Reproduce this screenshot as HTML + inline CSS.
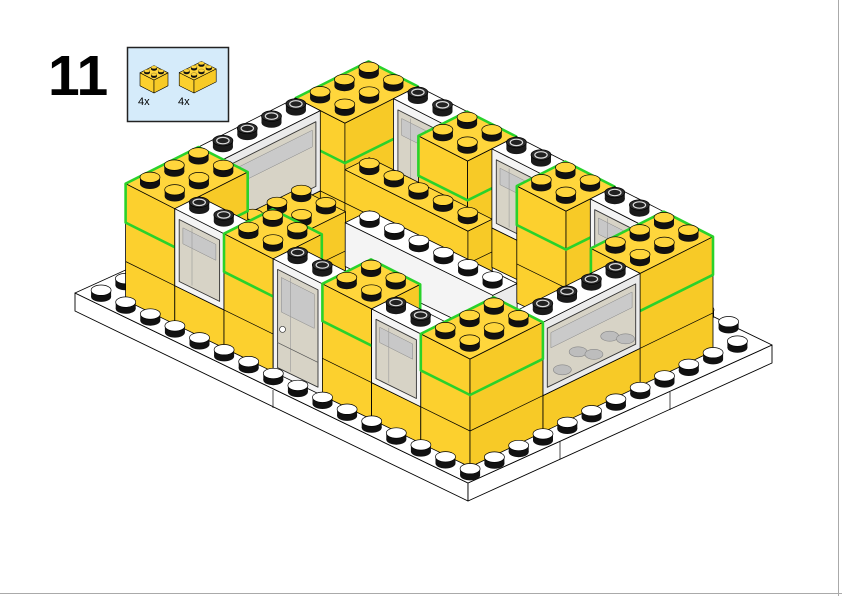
<!DOCTYPE html>
<html><head><meta charset="utf-8"><style>
html,body{margin:0;padding:0;background:#fff;}
body{width:842px;height:596px;overflow:hidden;position:relative;}
svg{position:absolute;left:0;top:0;}
</style></head><body>
<svg id="s" width="842" height="596" viewBox="0 0 842 596" xmlns="http://www.w3.org/2000/svg">
<rect x="0" y="0" width="842" height="596" fill="#fff"/>
<line x1="838.5" y1="0" x2="838.5" y2="596" stroke="#aaa" stroke-width="1"/>
<line x1="0" y1="593.5" x2="842" y2="593.5" stroke="#aaa" stroke-width="1"/>
<text x="48" y="95" font-family="Liberation Sans, sans-serif" font-weight="bold" font-size="57" fill="#000">11</text>
<rect x="127.5" y="47.5" width="101" height="74" fill="#D5EBFA" stroke="#222" stroke-width="1.5"/>
<text x="138" y="105" font-family="Liberation Sans, sans-serif" font-size="11" fill="#000">4x</text>
<text x="178" y="105" font-family="Liberation Sans, sans-serif" font-size="11" fill="#000">4x</text>
<g id="g"></g>
</svg>
<script>
(function(){
var S={ox:470,oy:467,ax:-24.6,ay:-11.9,bx:24.3,by:-11.6,persp:0.0058};
function P(a,b,z,s){s=s||S;var zs=(s.zs||1)*(1+(s.persp||0)*(a+b));return [s.ox+s.ax*a+s.bx*b, s.oy+s.ay*a+s.by*b-z*zs];}
function pts(p){return p.map(function(q){return q[0].toFixed(1)+','+q[1].toFixed(1);}).join(' ');}
function poly(p,f,st,w){return '<polygon points="'+pts(p)+'" fill="'+f+'" stroke="'+(st||'#000')+'" stroke-width="'+(w==null?0.8:w)+'" stroke-linejoin="round"/>';}
function ln(p,q,c,w){return '<line x1="'+p[0].toFixed(1)+'" y1="'+p[1].toFixed(1)+'" x2="'+q[0].toFixed(1)+'" y2="'+q[1].toFixed(1)+'" stroke="'+(c||'#000')+'" stroke-width="'+(w||0.7)+'"/>';}
var YT='#FFD63C',YL='#FCD02E',YR='#F7CA27';
function stud(a,b,z,type,s){
  s=s||S; var c=P(a,b,z,s); var k=Math.abs(s.bx)/24.3;
  var rx=10*k, ry=5.2*k, h=6.5*k, o='';
  var side='#111', top=YT;
  if(type==='white'){top='#fff';}
  if(type==='black'){side='#1a1a1a';top='#2b2b2b';}
  o+='<ellipse cx="'+c[0].toFixed(1)+'" cy="'+c[1].toFixed(1)+'" rx="'+rx.toFixed(1)+'" ry="'+ry.toFixed(1)+'" fill="'+side+'"/>';
  o+='<rect x="'+(c[0]-rx).toFixed(1)+'" y="'+(c[1]-h).toFixed(1)+'" width="'+(2*rx).toFixed(1)+'" height="'+h.toFixed(1)+'" fill="'+side+'"/>';
  o+='<ellipse cx="'+c[0].toFixed(1)+'" cy="'+(c[1]-h).toFixed(1)+'" rx="'+rx.toFixed(1)+'" ry="'+ry.toFixed(1)+'" fill="'+top+'" stroke="#000" stroke-width="'+(0.7*k).toFixed(2)+'"/>';
  if(type==='black'){o+='<ellipse cx="'+c[0].toFixed(1)+'" cy="'+(c[1]-h).toFixed(1)+'" rx="'+(rx*0.62).toFixed(1)+'" ry="'+(ry*0.62).toFixed(1)+'" fill="#222" stroke="#ddd" stroke-width="1.2"/>';}
  return o;
}
function box(o,s){
  s=s||S; var a0=o.a0,a1=o.a1,b0=o.b0,b1=o.b1,z0=o.z0,z1=o.z1,r='';
  var white=o.white;
  var tc=white?'#fff':YT, lc=white?'#f4f4f4':YL, rc=white?'#ebebeb':YR;
  var L=[P(a0,b0,z0,s),P(a1,b0,z0,s),P(a1,b0,z1,s),P(a0,b0,z1,s)];
  var R=[P(a0,b0,z0,s),P(a0,b1,z0,s),P(a0,b1,z1,s),P(a0,b0,z1,s)];
  var T=[P(a0,b0,z1,s),P(a1,b0,z1,s),P(a1,b1,z1,s),P(a0,b1,z1,s)];
  var sw=o.sw==null?0.8:o.sw;
  r+=poly(L,lc,'#000',sw)+poly(R,rc,'#000',sw)+poly(T,tc,'#000',sw);
  if(!white && !o.nolines){
    for(var z=36;z<z1-1;z+=36){ if(z>z0+1){
      r+=ln(P(a0,b0,z,s),P(a1,b0,z,s))+ln(P(a0,b0,z,s),P(a0,b1,z,s));}}
  }
  if(o.win){
    var w=o.win, m=0.18, g;
    if(w.face==='L'){
      g=[P(a0+m,b0,w.zb,s),P(a1-m,b0,w.zb,s),P(a1-m,b0,w.zt,s),P(a0+m,b0,w.zt,s)];
    } else {
      g=[P(a0,b0+m,w.zb,s),P(a0,b1-m,w.zb,s),P(a0,b1-m,w.zt,s),P(a0,b0+m,w.zt,s)];
    }
    r+=poly(g,'#d7d3c6','#333',0.9);
    var gi;
    if(w.face==='L'){ gi=[P(a0+m+0.15,b0,w.zt-6,s),P(a1-m-0.15,b0,w.zt-6,s),P(a1-m-0.15,b0,(w.zb+w.zt)/2+8,s),P(a0+m+0.15,b0,(w.zb+w.zt)/2+8,s)];
      r+=poly(gi,'#c8c8c8','#888',0.5);
      r+=ln(P((a0+a1)/2+0.3,b0,w.zb+2,s),P((a0+a1)/2+0.3,b0,w.zt-2,s),'#999',0.6);
    } else { gi=[P(a0,b0+m+0.15,w.zt-6,s),P(a0,b1-m-0.15,w.zt-6,s),P(a0,b1-m-0.15,(w.zb+w.zt)/2+8,s),P(a0,b0+m+0.15,(w.zb+w.zt)/2+8,s)];
      r+=poly(gi,'#cacaca','#888',0.5);
      if(o.grey){ for(var i=0;i<5;i++){ var c=P(a0,b0+0.8+i*0.65,w.zb+10+(i%2)*10,s);
        r+='<ellipse cx="'+c[0]+'" cy="'+c[1]+'" rx="9" ry="5" fill="#bdbdbd" stroke="#888" stroke-width="0.6"/>';}}
    }
    if(w.door){ var kp=P(a1-m-0.2,b0,45,s); r+='<circle cx="'+kp[0]+'" cy="'+kp[1]+'" r="3" fill="#fff" stroke="#333" stroke-width="0.7"/>';
      r+=ln(P(a0+m,b0,30,s),P(a1-m,b0,30,s),'#555',0.7);}
  }
  if(o.green){
    var H=[P(a0,b0,z0,s),P(a1,b0,z0,s),P(a1,b0,z1,s),P(a1,b1,z1,s),P(a0,b1,z1,s),P(a0,b1,z0,s)];
    r+=poly(H,'none','#2ad22a',2.6);
  }
  if(o.studs){
    var cells=o.cells;
    if(!cells){cells=[];for(var a=a0;a<a1-0.01;a++)for(var b=b0;b<b1-0.01;b++)cells.push([a+0.5,b+0.5]);}
    cells.sort(function(p,q){return (q[0]+q[1])-(p[0]+p[1]);});
    cells.forEach(function(c){r+=stud(c[0],c[1],z1,o.studs,s);});
  }
  return r;
}
var out='';
var S2={ox:154,oy:93,ax:-7,ay:-3.6,bx:7,by:-3.6,zs:1};
var S3={ox:194,oy:93,ax:-7.4,ay:-3.7,bx:7.4,by:-3.7,zs:1};
out+=box({a0:0,a1:2,b0:0,b1:2,z0:0,z1:13,studs:'yellow',nolines:true,sw:0.6},S2);
out+=box({a0:0,a1:2,b0:0,b1:3,z0:0,z1:13,studs:'yellow',nolines:true,sw:0.6},S3);
var F=[468,483],Lc=[75,293],Rc=[772,345],Bc=[379,155];
out+=poly([Lc,F,[468,501],[75,311]],'#fff','#000',0.9);
out+=poly([F,Rc,[772,363],[468,501]],'#fff','#000',0.9);
out+=poly([F,Lc,Bc,Rc],'#fff','#000',0.9);
out+=ln([273,390],[273,408])+ln([560,441],[560,459])+ln([670,392],[670,410]);
var back=[];
for(var b=0.65;b<11.5;b+=1)back.push([14.65,b]);
for(var a=0.65;a<14.6;a+=1)back.push([a,11.3]);
back.sort(function(p,q){return (q[0]+q[1])-(p[0]+p[1]);});
back.forEach(function(c){out+=stud(c[0],c[1],0,'white');});
var B=[];
function Y(a0,a1,b0,b1,z0,z1,ex){var o={a0:a0,a1:a1,b0:b0,b1:b1,z0:z0,z1:z1};for(var k in ex)o[k]=ex[k];B.push(o);}
function NEW(a0,a1,b0,b1){Y(a0,a1,b0,b1,0,72,{});Y(a0,a1,b0,b1,72,108,{green:true,studs:'yellow'});}
function WIN(a0,a1,b0,b1,face,base,ex){
  if(base>0)Y(a0,a1,b0,b1,0,base,{});
  var cells=[];
  if(face==='L'){for(var a=a0;a<a1-0.01;a++)cells.push([a+0.5,b0+0.5]);}
  else{for(var b=b0;b<b1-0.01;b++)cells.push([a0+0.5,b+0.5]);}
  var o={white:true,studs:'black',cells:cells,win:{face:face,zb:base+6,zt:100}};
  for(var k in ex){ if(k==='door')o.win.door=true; else o[k]=ex[k];}
  Y(a0,a1,b0,b1,base,108,o);
}
NEW(0,2,0,3); WIN(2,4,0,1,'L',36,{}); NEW(4,6,0,2); WIN(6,8,0,1,'L',0,{door:1});
NEW(8,10,0,2); WIN(10,12,0,1,'L',36,{}); NEW(12,14,0,3);
WIN(0,1,3,7,'R',36,{grey:1}); NEW(0,2,7,10);
WIN(2,4,9,10,'L',36,{}); NEW(4,6,8,10); WIN(6,8,9,10,'L',36,{}); NEW(8,10,8,10);
WIN(10,12,9,10,'L',36,{}); NEW(12,14,7,10);
WIN(13,14,3,7,'R',36,{});
Y(7,12,7,8,0,66,{studs:'yellow'});
Y(10,11.9,2.2,5,0,72,{studs:'yellow'});
Y(5,11,6,7,0,40,{white:true,studs:'white'});
B.sort(function(p,q){var kp=p.a0+p.a1+p.b0+p.b1,kq=q.a0+q.a1+q.b0+q.b1; if(Math.abs(kp-kq)>0.001)return kq-kp; return p.z0-q.z0;});
B.forEach(function(o){out+=box(o);});
var fr=[];
for(var a=-0.35;a<15;a+=1)fr.push([a,-0.35]);
for(var b=0.65;b<11.5;b+=1)fr.push([-0.35,b]);
fr.sort(function(p,q){return (q[0]+q[1])-(p[0]+p[1]);});
fr.forEach(function(c){out+=stud(c[0],c[1],0,'white');});
document.getElementById('g').innerHTML=out;
})();
</script>
</body></html>
